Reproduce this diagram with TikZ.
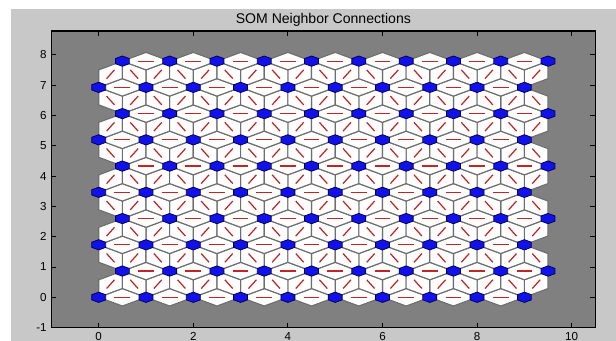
\documentclass[tikz,border=0pt]{standalone}
\usepackage{fontspec}
\setmainfont{Liberation Sans}
\usepackage{tikz}
\definecolor{FigGrey}   {RGB}{200,200,200}
\definecolor{AxGrey}    {RGB}{128,128,128}
\definecolor{EdgeGrey}  {RGB}{110,110,110}
\definecolor{NeuronBlue}{RGB}{18,18,232}
\definecolor{LinkRed}   {RGB}{196,36,36}

\tikzset{
  link/.style={fill=white, draw=EdgeGrey, line width=0.65pt, line join=round},
  linkline/.style={draw=LinkRed, line width=0.7pt},
  neuron/.style={fill=NeuronBlue, draw=black!65!blue, line width=0.45pt},
  tickmark/.style={draw=black, line width=0.5pt},
  ticklab/.style={font=\fontsize{6.6}{7.5}\selectfont, inner sep=0pt},
}
% connection patch from (#1,#2) to (#1+#3,#2+#4)
\newcommand{\somlink}[4]{%
  \filldraw[link] (#1,#2)
    -- ({#1+0.5*(#3)-0.2887*(#4)},{#2+0.5*(#4)+0.2887*(#3)})
    -- ({#1+(#3)},{#2+(#4)})
    -- ({#1+0.5*(#3)+0.2887*(#4)},{#2+0.5*(#4)-0.2887*(#3)}) -- cycle;
  \draw[linkline] ({#1+(#3)/3},{#2+(#4)/3}) -- ({#1+2*(#3)/3},{#2+2*(#4)/3});
}
% neuron hexagon at (#1,#2)
\newcommand{\somcell}[2]{%
  \filldraw[neuron] ({#1+0.1472},{#2+0.085}) -- (#1,{#2+0.17})
    -- ({#1-0.1472},{#2+0.085}) -- ({#1-0.1472},{#2-0.085})
    -- (#1,{#2-0.17}) -- ({#1+0.1472},{#2-0.085}) -- cycle;
}

\begin{document}
\begin{tikzpicture}[x=0.946cm, y=0.606cm]
  \useasboundingbox (-2.087,-1.442) rectangle (10.937,9.812);
  \fill[white] (-2.087,-1.442) rectangle (10.937,9.812);
  \fill[FigGrey] (-1.854,-1.442) rectangle (10.937,9.515);
  % axes
  \fill[AxGrey] (-1,-1) rectangle (10.5,8.79);
  \node[font=\fontsize{8}{9.5}\selectfont] (title) at (4.75,9.16)
    {SOM Neighbor Connections};
  % connections
  \foreach \r in {0,...,9}{
    \pgfmathsetmacro{\yy}{0.8660*\r}
    \foreach \c in {0,...,9}{
      \pgfmathsetmacro{\xx}{\c+0.5*mod(\r,2)}
      \ifnum\c<9 \somlink{\xx}{\yy}{1}{0}\fi
      \ifnum\r<9
        \ifodd\r
          \ifnum\c<9 \somlink{\xx}{\yy}{0.5}{0.866}\fi
          \somlink{\xx}{\yy}{-0.5}{0.866}
        \else
          \somlink{\xx}{\yy}{0.5}{0.866}
          \ifnum\c>0 \somlink{\xx}{\yy}{-0.5}{0.866}\fi
        \fi
      \fi
    }
  }
  % neurons
  \foreach \r in {0,...,9}{
    \pgfmathsetmacro{\yy}{0.8660*\r}
    \foreach \c in {0,...,9}{
      \pgfmathsetmacro{\xx}{\c+0.5*mod(\r,2)}
      \somcell{\xx}{\yy}
    }
  }
  % box, ticks, labels
  \draw[black, line width=0.8pt] (-1,-1) rectangle (10.5,8.79);
  \foreach \t in {0,2,...,10}{
    \draw[tickmark] (\t,-1) -- ++(0,0.165);
    \draw[tickmark] (\t,8.79) -- ++(0,-0.165);
    \node[ticklab, anchor=north] (xl\t) at (\t,-1.135) {\t};
  }
  \foreach \t in {-1,...,8}{
    \draw[tickmark] (-1,\t) -- ++(0.106,0);
    \draw[tickmark] (10.5,\t) -- ++(-0.106,0);
    \node[ticklab, anchor=east] (yl\t) at (-1.093,\t) {\t};
  }
\end{tikzpicture}
\end{document}
